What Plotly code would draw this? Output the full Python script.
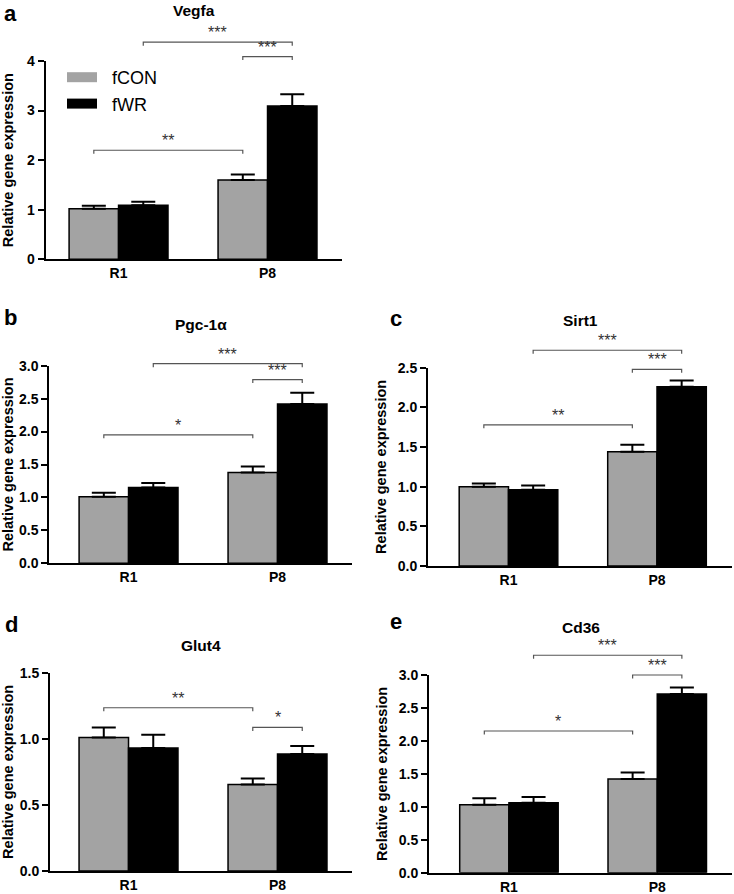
import plotly.graph_objects as go

W, H = 734, 894
FONT = "Liberation Sans, Arial, sans-serif"

groups = ["R1", "P8"]
series = ["fCON", "fWR"]
colors = {"fCON": "#a3a3a3", "fWR": "#000000"}

genes = ["Vegfa", "Pgc-1α", "Sirt1", "Glut4", "Cd36"]
letters = ["a", "b", "c", "d", "e"]

fcon_mean = {"Vegfa": [1.02, 1.60], "Pgc-1α": [1.01, 1.38], "Sirt1": [1.00, 1.44],
             "Glut4": [1.01, 0.655], "Cd36": [1.03, 1.42]}
fcon_sem = {"Vegfa": [0.06, 0.11], "Pgc-1α": [0.06, 0.09], "Sirt1": [0.04, 0.09],
            "Glut4": [0.075, 0.045], "Cd36": [0.10, 0.10]}
fwr_mean = {"Vegfa": [1.09, 3.09], "Pgc-1α": [1.15, 2.42], "Sirt1": [0.96, 2.26],
            "Glut4": [0.93, 0.885], "Cd36": [1.06, 2.71]}
fwr_sem = {"Vegfa": [0.07, 0.24], "Pgc-1α": [0.07, 0.17], "Sirt1": [0.055, 0.08],
           "Glut4": [0.10, 0.06], "Cd36": [0.09, 0.10]}

y_max = {"Vegfa": 4, "Pgc-1α": 3.0, "Sirt1": 2.5, "Glut4": 1.5, "Cd36": 3.0}
y_dtick = {"Vegfa": 1, "Pgc-1α": 0.5, "Sirt1": 0.5, "Glut4": 0.5, "Cd36": 0.5}
y_fmt = {"Vegfa": "d", "Pgc-1α": ".1f", "Sirt1": ".1f", "Glut4": ".1f", "Cd36": ".1f"}

brackets = {
    "Vegfa": [(1, 3, 4.38, "***"), (2, 3, 4.09, "***"), (0, 2, 2.2, "**")],
    "Pgc-1α": [(1, 3, 3.03, "***"), (2, 3, 2.79, "***"), (0, 2, 1.95, "*")],
    "Sirt1": [(1, 3, 2.72, "***"), (2, 3, 2.48, "***"), (0, 2, 1.78, "**")],
    "Glut4": [(0, 2, 1.235, "**"), (2, 3, 1.086, "*")],
    "Cd36": [(1, 3, 3.30, "***"), (2, 3, 3.0, "***"), (0, 2, 2.15, "*")],
}

px_x = [(45.7, 342), (49.3, 352), (428, 732), (50, 352), (429, 732)]
px_y = [(61, 259.3), (365.7, 563.3), (367.7, 566), (672.7, 871), (675, 872.7)]
x_ranges = [(-0.489, 1.5), (-0.532, 1.5), (-0.542, 1.505), (-0.527, 1.5), (-0.539, 1.504)]
title_y = [11, 325, 320, 645, 627]
letter_pos = [(3, None), (2, 317), (388, 318), (3, 624), (388, 621)]
y_standoff = [18, 8, 8, 8, 8]

bargap = 0.336
half = (1 - bargap) / 4.0

fig = go.Figure()
shapes = []
annotations = []
layout = {}

for i, gene in enumerate(genes):
    n = "" if i == 0 else str(i + 1)
    xa, ya = "x" + n, "y" + n
    for s, name in enumerate(series):
        mean = fcon_mean[gene] if s == 0 else fwr_mean[gene]
        sem = fcon_sem[gene] if s == 0 else fwr_sem[gene]
        fig.add_trace(go.Bar(
            x=[0, 1], y=mean, name=name, showlegend=False,
            xaxis=xa, yaxis=ya, offsetgroup=str(s),
            marker=dict(color=colors[name], line=dict(color="black", width=1.5)),
            error_y=dict(type="data", array=sem, arrayminus=[0, 0], symmetric=False,
                         color="black", thickness=2, width=12),
        ))
    x0, x1 = px_x[i]
    yt, yb = px_y[i]
    plot_h = yb - yt
    layout["xaxis" + n] = dict(
        domain=[x0 / W, x1 / W], anchor=ya, range=list(x_ranges[i]),
        tickvals=[0, 1], ticktext=groups, showline=True, linecolor="black", linewidth=2,
        ticks="", showgrid=False, zeroline=False,
        tickfont=dict(family=FONT, size=14, color="black", weight="bold"),
    )
    layout["yaxis" + n] = dict(
        domain=[1 - yb / H, 1 - yt / H], anchor=xa, range=[0, y_max[gene]],
        dtick=y_dtick[gene], tick0=0, tickformat=y_fmt[gene],
        showline=True, linecolor="black", linewidth=2, ticks="outside", ticklen=6,
        tickwidth=2, tickcolor="black", showgrid=False, zeroline=False,
        tickfont=dict(family=FONT, size=14, color="black", weight="bold"),
        title=dict(text="Relative gene expression", standoff=y_standoff[i],
                   font=dict(family=FONT, size=14.5, color="black", weight="bold")),
    )
    centres = [g + (-half if s == 0 else half) for g in range(2) for s in range(2)]
    tick_d = 3.5 / plot_h
    ym = y_max[gene]
    for (a, b, lev, lab) in brackets[gene]:
        xa0, xa1 = centres[a], centres[b]
        yd = lev / ym
        shapes.append(dict(
            type="path", xref=xa, yref=ya + " domain",
            path=f"M {xa0},{yd - tick_d} L {xa0},{yd} L {xa1},{yd} L {xa1},{yd - tick_d}",
            line=dict(color="#555555", width=1.2),
        ))
        annotations.append(dict(
            x=(xa0 + xa1) / 2, xref=xa, y=yd, yref=ya + " domain",
            text=lab, showarrow=False, yanchor="bottom", xanchor="center", yshift=-1,
            font=dict(family=FONT, size=16, color="#333333"),
        ))
    annotations.append(dict(
        x=0.5, xref=xa + " domain", y=1 - title_y[i] / H, yref="paper",
        text="<b>" + gene + "</b>", showarrow=False, yanchor="middle", xanchor="center",
        font=dict(family=FONT, size=15.5, color="black"),
    ))
    lx, ly = letter_pos[i]
    if ly is None:
        annotations.append(dict(
            x=lx / W, xref="paper", y=1, yref="paper",
            text="<b>" + letters[i] + "</b>", showarrow=False, yanchor="top", xanchor="left",
            font=dict(family=FONT, size=22, color="black"), borderpad=0,
        ))
    else:
        annotations.append(dict(
            x=lx / W, xref="paper", y=1 - ly / H, yref="paper",
            text="<b>" + letters[i] + "</b>", showarrow=False, yanchor="middle", xanchor="left",
            font=dict(family=FONT, size=22, color="black"),
        ))

for name in series:
    fig.add_trace(go.Scatter(
        x=[None], y=[None], mode="lines", name="\u00a0\u00a0" + name, xaxis="x", yaxis="y",
        line=dict(color=colors[name], width=12), showlegend=True,
    ))

fig.update_layout(
    **layout,
    width=W, height=H, margin=dict(l=0, r=0, t=0, b=0, autoexpand=False),
    paper_bgcolor="white", plot_bgcolor="white",
    barmode="group", bargap=bargap, bargroupgap=0,
    shapes=shapes, annotations=annotations,
    legend=dict(x=62 / W, y=1 - 59 / H, xanchor="left", yanchor="top",
                font=dict(family=FONT, size=18, color="black"),
                bgcolor="rgba(0,0,0,0)", borderwidth=0),
    font=dict(family=FONT),
)

fig.write_html(
    "out.html",
    config={"displayModeBar": False},
    post_script="document.body.style.margin='0px';document.body.style.overflow='hidden';",
)
